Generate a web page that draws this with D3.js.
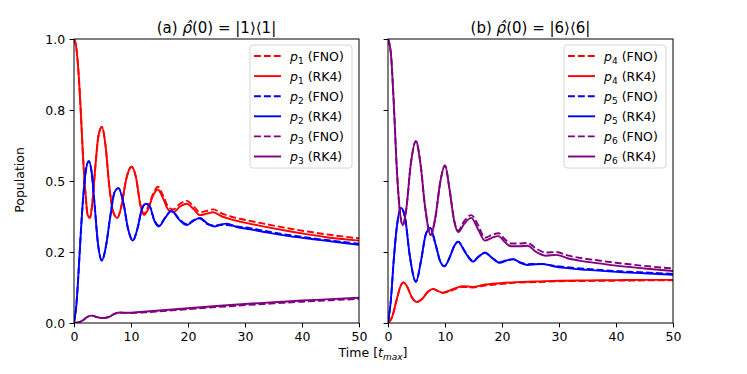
<!DOCTYPE html>
<html>
<head>
<meta charset="utf-8">
<script src="https://cdn.jsdelivr.net/npm/d3@7"></script>
<style>
body { margin: 0; background: #fff; }
text { font-family: "DejaVu Sans", sans-serif; fill: #000; }
</style>
</head>
<body>
<script>
// ---- data: [time, population] ----

// panel (a): rho(0) = |1><1|
var a_p1_rk4 = [[0,1.0],[0.4,0.97],[0.8,0.88],[1.2,0.74],[1.6,0.58],[2.0,0.46],[2.4,0.38],[2.8,0.37],[3.2,0.42],[3.7,0.54],[4.3,0.66],[4.9,0.69],[5.5,0.63],[6.2,0.48],[6.9,0.39],[7.6,0.37],[8.3,0.41],[9.2,0.51],[10.1,0.55],[10.9,0.51],[11.6,0.42],[12.3,0.38],[13.0,0.40],[13.9,0.45],[14.7,0.47],[15.6,0.44],[16.5,0.40],[17.4,0.39],[18.6,0.41],[19.8,0.42],[21.0,0.40],[22.1,0.38],[23.3,0.385],[24.4,0.39],[26.0,0.375],[27.5,0.365],[29.1,0.357],[32,0.345],[35,0.333],[38,0.322],[41,0.312],[44,0.303],[47,0.296],[50,0.29]];
var a_p1_fno = [[0,1.0],[0.4,0.97],[0.8,0.88],[1.2,0.74],[1.6,0.58],[2.0,0.46],[2.4,0.38],[2.8,0.37],[3.2,0.42],[3.7,0.54],[4.3,0.66],[4.9,0.69],[5.5,0.63],[6.2,0.48],[6.9,0.39],[7.6,0.37],[8.3,0.41],[9.2,0.51],[10.1,0.55],[10.9,0.51],[11.6,0.42],[12.3,0.385],[13.0,0.41],[13.9,0.455],[14.7,0.48],[15.6,0.45],[16.5,0.41],[17.4,0.40],[18.6,0.42],[19.8,0.43],[21.0,0.41],[22.1,0.39],[23.3,0.395],[24.4,0.40],[26.0,0.385],[27.5,0.375],[29.1,0.367],[32,0.355],[35,0.343],[38,0.332],[41,0.322],[44,0.313],[47,0.305],[50,0.298]];
var a_p2_rk4 = [[0,0],[0.4,0.06],[0.8,0.18],[1.2,0.32],[1.6,0.44],[2.1,0.54],[2.6,0.57],[3.1,0.53],[3.6,0.42],[4.2,0.28],[4.9,0.22],[5.6,0.27],[6.4,0.38],[7.1,0.46],[7.8,0.475],[8.6,0.43],[9.5,0.33],[10.3,0.29],[11.1,0.33],[11.9,0.40],[12.6,0.42],[13.3,0.41],[14.1,0.36],[14.9,0.34],[16.0,0.37],[17.1,0.395],[18.4,0.365],[19.8,0.345],[21.0,0.36],[22.1,0.37],[23.4,0.35],[24.7,0.34],[25.8,0.347],[26.8,0.35],[28.5,0.338],[30.9,0.33],[34,0.318],[38,0.305],[42,0.295],[46,0.285],[50,0.275]];
var a_p2_fno = [[0,0],[0.4,0.06],[0.8,0.18],[1.2,0.32],[1.6,0.44],[2.1,0.54],[2.6,0.57],[3.1,0.53],[3.6,0.42],[4.2,0.28],[4.9,0.22],[5.6,0.27],[6.4,0.38],[7.1,0.46],[7.8,0.475],[8.6,0.43],[9.5,0.33],[10.3,0.29],[11.1,0.33],[11.9,0.40],[12.6,0.42],[13.3,0.41],[14.1,0.362],[14.9,0.343],[16.0,0.372],[17.1,0.395],[18.4,0.368],[19.8,0.348],[21.0,0.362],[22.1,0.368],[23.4,0.348],[24.7,0.343],[25.8,0.345],[26.8,0.345],[28.5,0.34],[30.9,0.334],[34,0.322],[38,0.309],[42,0.298],[46,0.288],[50,0.279]];
var a_p3_rk4 = [[0,0],[0.8,0.002],[1.6,0.01],[2.4,0.022],[3.1,0.026],[4.0,0.021],[5.1,0.017],[6.2,0.022],[7.2,0.033],[8.1,0.037],[9.5,0.036],[11,0.038],[15,0.044],[20,0.052],[25,0.06],[30,0.067],[35,0.073],[40,0.079],[45,0.084],[50,0.089]];
var a_p3_fno = [[0,0],[0.8,0.002],[1.6,0.01],[2.4,0.022],[3.1,0.026],[4.0,0.021],[5.1,0.017],[6.2,0.022],[7.2,0.033],[8.1,0.036],[9.5,0.035],[11,0.036],[15,0.041],[20,0.049],[25,0.056],[30,0.063],[35,0.069],[40,0.075],[45,0.08],[50,0.085]];

// panel (b): rho(0) = |6><6|
var b_p4_rk4 = [[0,0],[0.7,0.02],[1.5,0.08],[2.2,0.13],[2.7,0.143],[3.3,0.13],[4.2,0.09],[5.1,0.074],[6,0.085],[7,0.11],[7.9,0.12],[8.7,0.113],[9.6,0.107],[10.8,0.114],[12,0.124],[13.1,0.13],[14.9,0.127],[16.7,0.134],[19.6,0.14],[22.5,0.144],[26,0.146],[30,0.149],[35,0.15],[40,0.151],[45,0.152],[50,0.152]];
var b_p4_fno = [[0,0],[0.7,0.02],[1.5,0.08],[2.2,0.13],[2.7,0.143],[3.3,0.13],[4.2,0.09],[5.1,0.074],[6,0.085],[7,0.11],[7.9,0.12],[8.7,0.113],[9.6,0.106],[10.8,0.112],[12,0.121],[13.1,0.127],[14.9,0.125],[16.7,0.131],[19.6,0.137],[22.5,0.142],[26,0.144],[30,0.147],[35,0.148],[40,0.149],[45,0.15],[50,0.15]];
var b_p5_rk4 = [[0,0],[0.5,0.08],[1,0.22],[1.5,0.33],[2.3,0.405],[3,0.37],[3.8,0.24],[4.9,0.145],[5.8,0.22],[6.6,0.31],[7.4,0.335],[8.3,0.28],[9.2,0.215],[9.9,0.20],[10.8,0.23],[11.6,0.27],[12.3,0.286],[13.5,0.25],[14.9,0.216],[16,0.235],[17,0.248],[18.3,0.228],[19.6,0.212],[20.8,0.22],[22,0.225],[23.2,0.212],[24.5,0.204],[25.8,0.207],[27,0.208],[29,0.2],[31,0.194],[35,0.187],[40,0.18],[45,0.175],[50,0.17]];
var b_p5_fno = [[0,0],[0.5,0.08],[1,0.22],[1.5,0.33],[2.3,0.405],[3,0.37],[3.8,0.24],[4.9,0.145],[5.8,0.22],[6.6,0.31],[7.4,0.335],[8.3,0.28],[9.2,0.215],[9.9,0.20],[10.8,0.23],[11.6,0.27],[12.3,0.286],[13.5,0.252],[14.9,0.219],[16,0.236],[17,0.247],[18.3,0.229],[19.6,0.214],[20.8,0.221],[22,0.224],[23.2,0.213],[24.5,0.207],[25.8,0.208],[27,0.208],[29,0.202],[31,0.197],[35,0.19],[40,0.183],[45,0.178],[50,0.173]];
var b_p6_rk4 = [[0,1],[0.5,0.95],[1,0.78],[1.5,0.56],[2,0.41],[2.6,0.345],[3.2,0.40],[4,0.56],[4.9,0.64],[5.7,0.56],[6.5,0.41],[7.5,0.31],[8.3,0.37],[9.2,0.50],[10,0.555],[10.8,0.47],[11.6,0.36],[12.3,0.32],[13.4,0.35],[14.6,0.37],[15.8,0.33],[17,0.29],[18.2,0.30],[19.4,0.306],[20.5,0.285],[21.6,0.27],[23,0.27],[24.5,0.272],[26,0.25],[27.7,0.237],[29.5,0.24],[31.5,0.228],[34,0.218],[37,0.21],[40,0.202],[45,0.192],[50,0.183]];
var b_p6_fno = [[0,1],[0.5,0.95],[1,0.78],[1.5,0.56],[2,0.41],[2.6,0.345],[3.2,0.40],[4,0.56],[4.9,0.64],[5.7,0.56],[6.5,0.41],[7.5,0.31],[8.3,0.37],[9.2,0.50],[10,0.555],[10.8,0.47],[11.6,0.362],[12.3,0.325],[13.4,0.36],[14.6,0.38],[15.8,0.345],[17,0.30],[18.2,0.31],[19.4,0.316],[20.5,0.295],[21.6,0.28],[23,0.28],[24.5,0.282],[26,0.262],[27.7,0.248],[29.5,0.25],[31.5,0.238],[34,0.228],[37,0.22],[40,0.212],[45,0.201],[50,0.192]];

var xTicks = [0, 10, 20, 30, 40, 50];
var yTicks = [0, 0.25, 0.5, 0.75, 1.0];
var yTickLabels = ["0.0", "0.2", "0.5", "0.8", "1.0"];

var width = 747, height = 374;
var plotTop = 39, plotBottom = 323, panelW = 285;
var panelX = [74, 388];

var svg = d3.select("body").append("svg")
    .attr("width", width)
    .attr("height", height);

svg.append("rect").attr("width", width).attr("height", height).attr("fill", "#fff");

var y = d3.scaleLinear().domain([0, 1]).range([plotBottom, plotTop]);

var panels = [
    { title: ["(a) ", "|1\u27E9\u27E81|"], sub: ["1", "2", "3"], series: [a_p1_fno, a_p1_rk4, a_p2_fno, a_p2_rk4, a_p3_fno, a_p3_rk4] },
    { title: ["(b) ", "|6\u27E9\u27E86|"], sub: ["4", "5", "6"], series: [b_p4_fno, b_p4_rk4, b_p5_fno, b_p5_rk4, b_p6_fno, b_p6_rk4] }
];
var colors = ["red", "red", "blue", "blue", "purple", "purple"];
var methods = ["FNO", "RK4", "FNO", "RK4", "FNO", "RK4"];

panels.forEach(function (p, pi) {
    var x0 = panelX[pi];
    var x = d3.scaleLinear().domain([0, 50]).range([x0, x0 + panelW]);
    var g = svg.append("g");

    var clipId = "clip" + pi;
    svg.append("clipPath").attr("id", clipId).append("rect")
        .attr("x", x0).attr("y", plotTop).attr("width", panelW).attr("height", plotBottom - plotTop);

    var line = d3.line()
        .x(function (d) { return x(d[0]); })
        .y(function (d) { return y(d[1]); })
        .curve(d3.curveMonotoneX);

    var lines = g.append("g").attr("clip-path", "url(#" + clipId + ")");
    p.series.forEach(function (s, i) {
        lines.append("path")
            .datum(s)
            .attr("d", line)
            .attr("fill", "none")
            .attr("stroke", colors[i])
            .attr("stroke-width", 1.9)
            .attr("stroke-dasharray", i % 2 === 0 ? "6.9,3" : null);
    });

    // axes
    var xAxis = d3.axisBottom(x).tickValues(xTicks).tickSize(4.4).tickPadding(4.4);
    var gx = g.append("g").attr("transform", "translate(0," + plotBottom + ")").call(xAxis);
    var yAxis = d3.axisLeft(y).tickValues(yTicks).tickSize(4.4).tickPadding(4.4)
        .tickFormat(function (d, i) { return pi === 0 ? yTickLabels[i] : ""; });
    var gy = g.append("g").attr("transform", "translate(" + x0 + ",0)").call(yAxis);
    [gx, gy].forEach(function (a) {
        a.select(".domain").remove();
        a.selectAll("line").attr("stroke", "#000").attr("stroke-width", 1);
        a.selectAll("text").attr("font-family", "DejaVu Sans").attr("font-size", 12.5).attr("fill", "#000");
    });

    g.append("rect")
        .attr("x", x0).attr("y", plotTop).attr("width", panelW).attr("height", plotBottom - plotTop)
        .attr("fill", "none").attr("stroke", "#000").attr("stroke-width", 1);

    // title
    var t = g.append("text")
        .attr("x", x0 + panelW / 2).attr("y", 33)
        .attr("text-anchor", "middle").attr("font-size", 15);
    t.append("tspan").text(p.title[0]);
    t.append("tspan").attr("font-style", "italic").text("\u03C1\u0302");
    t.append("tspan").text("(0) = " + p.title[1]);

    // legend
    var lx = x0 + panelW - 7 - 102, ly = 45;
    var leg = g.append("g");
    leg.append("rect")
        .attr("x", lx).attr("y", ly).attr("width", 102).attr("height", 123)
        .attr("rx", 3).attr("fill", "#fff").attr("fill-opacity", 0.8)
        .attr("stroke", "#d6d6d6").attr("stroke-width", 1);
    colors.forEach(function (c, i) {
        var ry = ly + 11 + i * 20.1;
        leg.append("line")
            .attr("x1", lx + 4).attr("x2", lx + 31).attr("y1", ry).attr("y2", ry)
            .attr("stroke", c).attr("stroke-width", 1.9)
            .attr("stroke-dasharray", i % 2 === 0 ? "6.9,3" : null);
        var lt = leg.append("text").attr("x", lx + 40).attr("y", ry + 4.5).attr("font-size", 12.5);
        lt.append("tspan").attr("font-style", "italic").text("p");
        lt.append("tspan").attr("font-size", 9).attr("dy", 3).text(p.sub[Math.floor(i / 2)]);
        lt.append("tspan").attr("dy", -3).text(" (" + methods[i] + ")");
    });
});

// axis labels
var xl = svg.append("text").attr("x", 373).attr("y", 357)
    .attr("text-anchor", "middle").attr("font-size", 12.5);
xl.append("tspan").text("Time [");
xl.append("tspan").attr("font-style", "italic").text("t");
xl.append("tspan").attr("font-style", "italic").attr("font-size", 9).attr("dy", 3).text("max");
xl.append("tspan").attr("dy", -3).text("]");

svg.append("text")
    .attr("transform", "translate(24,180) rotate(-90)")
    .attr("text-anchor", "middle").attr("font-size", 12.5)
    .text("Population");
</script>
</body>
</html>
